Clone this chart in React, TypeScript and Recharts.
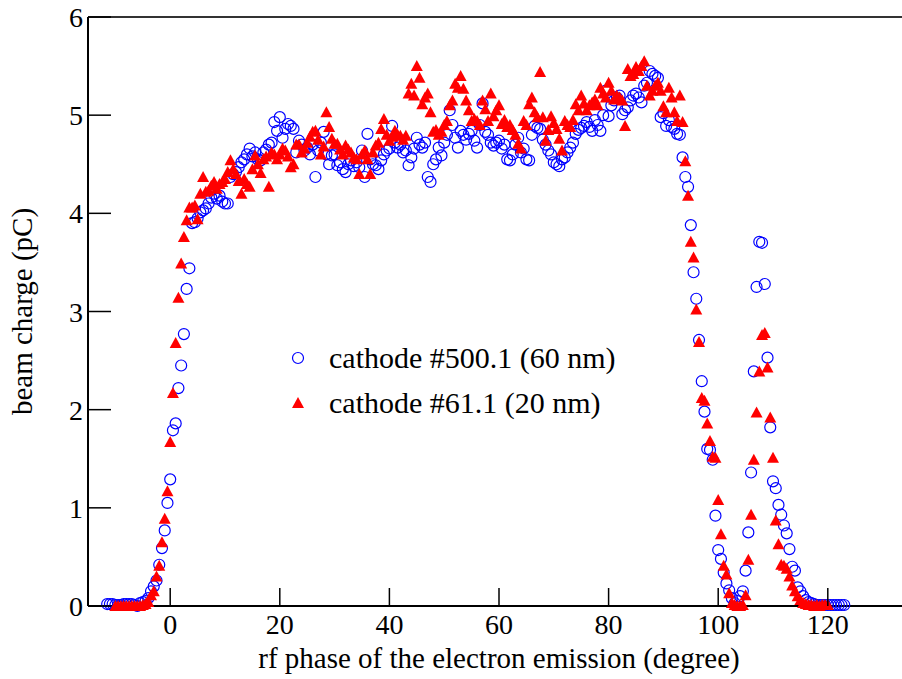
import { ScatterChart, Scatter, XAxis, YAxis, ReferenceLine, Legend } from "recharts";

// cathode #500.1 (60 nm), open blue circles
const phase500 = [
  -11.5, -11, -10.5, -10, -9.5, -9, -8.5, -8, -7.5, -7, -6.5, -6, -5.5, -5, -4.5, -4, -3.5, -3, -2.5, -2, -1.5, -1, -0.5,
  0, 0.5, 1, 1.5, 2, 2.5, 3, 3.5, 4, 4.5, 5, 5.5, 6, 6.5, 7, 7.5, 8, 8.5, 9, 9.5,
  10, 10.5, 11, 11.5, 12, 12.5, 13, 13.5, 14, 14.5, 15, 15.5, 16, 16.5, 17, 17.5, 18, 18.5, 19, 19.5,
  20, 20.5, 21, 21.5, 22, 22.5, 23, 23.5, 24, 24.5, 25, 25.5, 26, 26.5, 27, 27.5, 28, 28.5, 29, 29.5,
  30, 30.5, 31, 31.5, 32, 32.5, 33, 33.5, 34, 34.5, 35, 35.5, 36, 36.5, 37, 37.5, 38, 38.5, 39, 39.5,
  40, 40.5, 41, 41.5, 42, 42.5, 43, 43.5, 44, 44.5, 45, 45.5, 46, 46.5, 47, 47.5, 48, 48.5, 49, 49.5,
  50, 50.5, 51, 51.5, 52, 52.5, 53, 53.5, 54, 54.5, 55, 55.5, 56, 56.5, 57, 57.5, 58, 58.5, 59, 59.5,
  60, 60.5, 61, 61.5, 62, 62.5, 63, 63.5, 64, 64.5, 65, 65.5, 66, 66.5, 67, 67.5, 68, 68.5, 69, 69.5,
  70, 70.5, 71, 71.5, 72, 72.5, 73, 73.5, 74, 74.5, 75, 75.5, 76, 76.5, 77, 77.5, 78, 78.5, 79, 79.5,
  80, 80.5, 81, 81.5, 82, 82.5, 83, 83.5, 84, 84.5, 85, 85.5, 86, 86.5, 87, 87.5, 88, 88.5, 89, 89.5,
  90, 90.5, 91, 91.5, 92, 92.5, 93, 93.5, 94, 94.5, 95, 95.5, 96, 96.5, 97, 97.5, 98, 98.5, 99, 99.5,
  100, 100.5, 101, 101.5, 102, 102.5, 103, 103.5, 104, 104.5, 105, 105.5, 106, 106.5, 107, 107.5, 108, 108.5, 109, 109.5,
  110, 110.5, 111, 111.5, 112, 112.5, 113, 113.5, 114, 114.5, 115, 115.5, 116, 116.5, 117, 117.5, 118, 118.5, 119, 119.5,
  120, 120.5, 121, 121.5, 122, 122.5, 123,
];
const charge500 = [
  0.02, 0.02, 0.02, 0.01, 0.01, 0.01, 0.02, 0.02, 0.02, 0.02, 0.01, 0.0, 0.03, 0.04, 0.05, 0.08, 0.15, 0.2, 0.26, 0.42, 0.59, 0.77, 1.05,
  1.29, 1.79, 1.86, 2.22, 2.45, 2.77, 3.23, 3.44, 3.9, 3.91, 3.95, 4.01, 4.03, 4.05, 4.1, 4.16, 4.2, 4.15, 4.18, 4.12,
  4.1, 4.1, 4.37, 4.4, 4.42, 4.47, 4.52, 4.55, 4.6, 4.66, 4.58, 4.62, 4.55, 4.54, 4.62, 4.65, 4.7, 4.72, 4.93, 4.84,
  4.98, 4.77, 4.86, 4.91, 4.89, 4.86, 4.62, 4.74, 4.7, 4.64, 4.67, 4.6, 4.7, 4.37, 4.64, 4.72, 4.83, 4.6, 4.5, 4.59,
  4.6, 4.49, 4.52, 4.45, 4.42, 4.5, 4.54, 4.48, 4.52, 4.47, 4.64, 4.37, 4.81, 4.55, 4.5, 4.49, 4.45, 4.54, 4.6, 4.64,
  4.66, 4.89, 4.72, 4.67, 4.7, 4.62, 4.64, 4.49, 4.57, 4.66, 4.77, 4.7, 4.67, 4.72, 4.37, 4.32, 4.5, 4.55, 4.67, 4.59,
  4.72, 4.8, 5.05, 4.9, 4.77, 4.67, 4.84, 4.8, 4.75, 4.81, 4.84, 4.74, 4.67, 4.9, 5.12, 4.83, 4.8, 4.72, 4.69, 4.72,
  4.74, 4.66, 4.7, 4.55, 4.54, 4.6, 4.7, 4.77, 4.62, 4.66, 4.55, 4.54, 4.8, 4.89, 4.87, 4.86, 4.75, 4.7, 4.64, 4.6,
  4.52, 4.5, 4.48, 4.55, 4.57, 4.62, 4.67, 4.72, 4.81, 4.85, 4.87, 4.89, 4.93, 4.88, 4.84, 4.95, 4.9, 4.84, 5.0, 5.25,
  4.99, 5.1, 5.15, 5.18, 5.2, 5.01, 5.05, 5.08, 5.15, 5.2, 5.22, 5.18, 5.13, 5.3, 5.33, 5.45, 5.42, 5.4, 5.38, 4.98,
  5.02, 4.89, 4.95, 4.88, 4.86, 4.81, 4.8, 4.57, 4.37, 4.27, 3.88, 3.4, 3.13, 2.71, 2.29, 1.98, 1.6, 1.59, 1.49, 0.92,
  0.57, 0.48, 0.34, 0.23, 0.16, 0.08, 0.03, 0.05, 0.1, 0.15, 0.36, 0.75, 1.36, 2.39, 3.25, 3.71, 3.7, 3.28, 2.53, 1.82,
  1.27, 1.2, 1.03, 0.93, 0.82, 0.74, 0.58, 0.4, 0.36, 0.19, 0.15, 0.1, 0.06, 0.04, 0.03, 0.02, 0.01, 0.01, 0.01, 0.01,
  0.01, 0.01, 0.01, 0.01, 0.01, 0.01, 0.01,
];

// cathode #61.1 (20 nm), filled red triangles
const phase61 = [
  -10, -9.5, -9, -8.5, -8, -7.5, -7, -6.5, -6, -5.5, -5, -4.5, -4, -3.5, -3, -2.5, -2, -1.5, -1, -0.5,
  0, 0.5, 1, 1.5, 2, 2.5, 3, 3.5, 4, 4.5, 5, 5.5, 6, 6.5, 7, 7.5, 8, 8.5, 9, 9.5,
  10, 10.5, 11, 11.5, 12, 12.5, 13, 13.5, 14, 14.5, 15, 15.5, 16, 16.5, 17, 17.5, 18, 18.5, 19, 19.5,
  20, 20.5, 21, 21.5, 22, 22.5, 23, 23.5, 24, 24.5, 25, 25.5, 26, 26.5, 27, 27.5, 28, 28.5, 29, 29.5,
  30, 30.5, 31, 31.5, 32, 32.5, 33, 33.5, 34, 34.5, 35, 35.5, 36, 36.5, 37, 37.5, 38, 38.5, 39, 39.5,
  40, 40.5, 41, 41.5, 42, 42.5, 43, 43.5, 44, 44.5, 45, 45.5, 46, 46.5, 47, 47.5, 48, 48.5, 49, 49.5,
  50, 50.5, 51, 51.5, 52, 52.5, 53, 53.5, 54, 54.5, 55, 55.5, 56, 56.5, 57, 57.5, 58, 58.5, 59, 59.5,
  60, 60.5, 61, 61.5, 62, 62.5, 63, 63.5, 64, 64.5, 65, 65.5, 66, 66.5, 67, 67.5, 68, 68.5, 69, 69.5,
  70, 70.5, 71, 71.5, 72, 72.5, 73, 73.5, 74, 74.5, 75, 75.5, 76, 76.5, 77, 77.5, 78, 78.5, 79, 79.5,
  80, 80.5, 81, 81.5, 82, 82.5, 83, 83.5, 84, 84.5, 85, 85.5, 86, 86.5, 87, 87.5, 88, 88.5, 89, 89.5,
  90, 90.5, 91, 91.5, 92, 92.5, 93, 93.5, 94, 94.5, 95, 95.5, 96, 96.5, 97, 97.5, 98, 98.5, 99, 99.5,
  100, 100.5, 101, 101.5, 102, 102.5, 103, 103.5, 104, 104.5, 105, 105.5, 106, 106.5, 107, 107.5, 108, 108.5, 109, 109.5,
  110, 110.5, 111, 111.5, 112, 112.5, 113, 113.5, 114, 114.5, 115, 115.5, 116, 116.5, 117, 117.5, 118, 118.5, 119, 119.5, 120,
];
const charge61 = [
  0, 0, 0, 0, 0, 0, 0, 0, 0, 0, 0.01, 0.02, 0.04, 0.11, 0.15, 0.3, 0.41, 0.65, 0.89, 1.17,
  1.67, 2.17, 2.68, 3.14, 3.49, 3.76, 3.93, 4.06, 4.06, 4.08, 3.94, 4.2, 4.37, 4.22, 4.23, 4.28, 4.32, 4.25, 4.3, 4.32,
  4.35, 4.42, 4.54, 4.45, 4.4, 4.33, 4.2, 4.35, 4.3, 4.27, 4.45, 4.59, 4.5, 4.41, 4.55, 4.58, 4.27, 4.62, 4.6, 4.55,
  4.6, 4.66, 4.64, 4.58, 4.47, 4.5, 4.7, 4.7, 4.62, 4.66, 4.72, 4.78, 4.83, 4.84, 4.75, 4.6, 4.68, 5.03, 4.88, 4.76,
  4.71, 4.71, 4.65, 4.6, 4.69, 4.65, 4.62, 4.57, 4.55, 4.4, 4.6, 4.64, 4.55, 4.4, 4.62, 4.69, 4.72, 4.86, 4.96, 4.8,
  4.74, 4.78, 4.84, 4.8, 4.79, 4.75, 4.79, 5.22, 5.32, 5.2, 5.5, 5.38, 5.11, 5.18, 5.22, 5.03, 4.83, 4.85, 4.8, 4.83,
  4.9, 4.94, 5.1, 5.15, 5.32, 5.28, 5.4, 5.27, 5.15, 5.05, 4.94, 4.96, 4.94, 4.9, 5.15, 5.06, 4.94, 5.22, 4.99, 5.05,
  5.1, 4.91, 4.95, 4.88, 4.9, 4.85, 4.8, 4.71, 4.66, 4.94, 4.9, 5.11, 5.18, 5.03, 4.98, 5.44, 4.98, 4.74, 4.85, 4.99,
  4.92, 4.86, 4.76, 4.64, 4.94, 4.9, 4.88, 4.95, 5.11, 5.05, 5.2, 5.12, 5.05, 5.1, 5.13, 5.16, 5.1, 5.28, 5.22, 5.18,
  5.33, 5.25, 5.16, 5.2, 5.18, 5.15, 4.89, 5.47, 5.4, 5.42, 5.49, 5.45, 5.5, 5.55, 5.3, 5.2, 5.25, 5.3, 5.33, 5.25,
  5.09, 5.03, 5.28, 5.18, 5.03, 4.94, 5.2, 4.93, 4.53, 4.18, 3.71, 3.55, 3.02, 2.69, 2.12, 2.09, 1.86, 1.68, 1.52, 1.51,
  1.08, 0.73, 0.41, 0.32, 0.13, 0.03, 0.01, 0, 0, 0.01, 0.11, 0.47, 0.93, 1.49, 1.97, 2.39, 2.76, 2.78, 2.43, 1.92,
  1.51, 0.87, 0.63, 0.42, 0.41, 0.38, 0.3, 0.21, 0.15, 0.1, 0.06, 0.03, 0.02, 0.01, 0.01, 0, 0.01, 0, 0.01, 0.01, 0.01,
];

const xTicks = [0, 20, 40, 60, 80, 100, 120];
const yTicks = [0, 1, 2, 3, 4, 5, 6];

const data500 = phase500.map((p, i) => ({ phase: p, charge: charge500[i] }));
const data61 = phase61.map((p, i) => ({ phase: p, charge: charge61[i] }));

const FONT = '"Liberation Serif", "DejaVu Serif", serif';
const BLUE = "#0000ff";
const RED = "#ff0000";

function XTick(props: any) {
  const { x, y, payload } = props;
  return (
    <g>
      <line x1={x} y1={y} x2={x} y2={y - 18} stroke="#000" strokeWidth={1.5} />
      <text x={x} y={y + 28} textAnchor="middle" fontSize={28} fontFamily={FONT} fill="#000">
        {payload.value}
      </text>
    </g>
  );
}

function YTick(props: any) {
  const { x, y, payload } = props;
  return (
    <g>
      <line x1={x} y1={y} x2={x + 23} y2={y} stroke="#000" strokeWidth={1.5} />
      <text x={x - 5} y={y + 10} textAnchor="end" fontSize={28} fontFamily={FONT} fill="#000">
        {payload.value}
      </text>
    </g>
  );
}

function Ring(props: any) {
  const { cx, cy } = props;
  return <circle cx={cx} cy={cy} r={5.5} fill="none" stroke={BLUE} strokeWidth={1.2} />;
}

function Tri(props: any) {
  const { cx, cy } = props;
  return <polygon points={`${cx},${cy - 6} ${cx - 6},${cy + 5} ${cx + 6},${cy + 5}`} fill={RED} />;
}

function LegendBox() {
  return (
    <svg width={440} height={90} style={{ display: "block" }}>
      <circle cx={11} cy={22} r={5.5} fill="none" stroke={BLUE} strokeWidth={1.2} />
      <text x={42} y={32} fontSize={30} fontFamily={FONT} fill="#000">cathode #500.1 (60 nm)</text>
      <polygon points="11,61 5,72 17,72" fill={RED} />
      <text x={42} y={77} fontSize={30} fontFamily={FONT} fill="#000">cathode #61.1 (20 nm)</text>
    </svg>
  );
}

export default function App() {
  return (
    <div style={{ position: "absolute", left: 0, top: 0, width: 902, height: 679, overflow: "hidden", background: "#fff" }}>
      <ScatterChart width={910} height={679} margin={{ top: 17, right: 0, bottom: 0, left: 0 }}>
        <XAxis
          type="number"
          dataKey="phase"
          domain={[-15, 135]}
          ticks={xTicks}
          height={73}
          tickSize={0}
          tickMargin={0}
          tickLine={false}
          axisLine={{ stroke: "#000", strokeWidth: 2 }}
          tick={<XTick />}
          label={({ viewBox }: any) => (
            <text
              x={viewBox.x + viewBox.width / 2}
              y={viewBox.y + 62}
              textAnchor="middle"
              fontSize={29}
              fontFamily={FONT}
              fill="#000"
            >
              rf phase of the electron emission (degree)
            </text>
          )}
        />
        <YAxis
          type="number"
          dataKey="charge"
          domain={[0, 6]}
          ticks={yTicks}
          width={88}
          tickSize={0}
          tickMargin={0}
          tickLine={false}
          axisLine={{ stroke: "#000", strokeWidth: 2 }}
          tick={<YTick />}
          label={({ viewBox }: any) => {
            const cx = viewBox.x + 22;
            const cy = viewBox.y + viewBox.height / 2;
            return (
              <text
                x={cx}
                y={cy}
                transform={`rotate(-90 ${cx} ${cy})`}
                textAnchor="middle"
                dominantBaseline="central"
                fontSize={29}
                fontFamily={FONT}
                fill="#000"
              >
                beam charge (pC)
              </text>
            );
          }}
        />
        <ReferenceLine y={6} stroke="#333" strokeWidth={2} />
        <Scatter data={data500} shape={<Ring />} isAnimationActive={false} />
        <Scatter data={data61} shape={<Tri />} isAnimationActive={false} />
        <Legend
          layout="horizontal"
          verticalAlign="middle"
          wrapperStyle={{ left: 287, top: 336, width: 440, height: 90 }}
          content={() => <LegendBox />}
        />
      </ScatterChart>
    </div>
  );
}
